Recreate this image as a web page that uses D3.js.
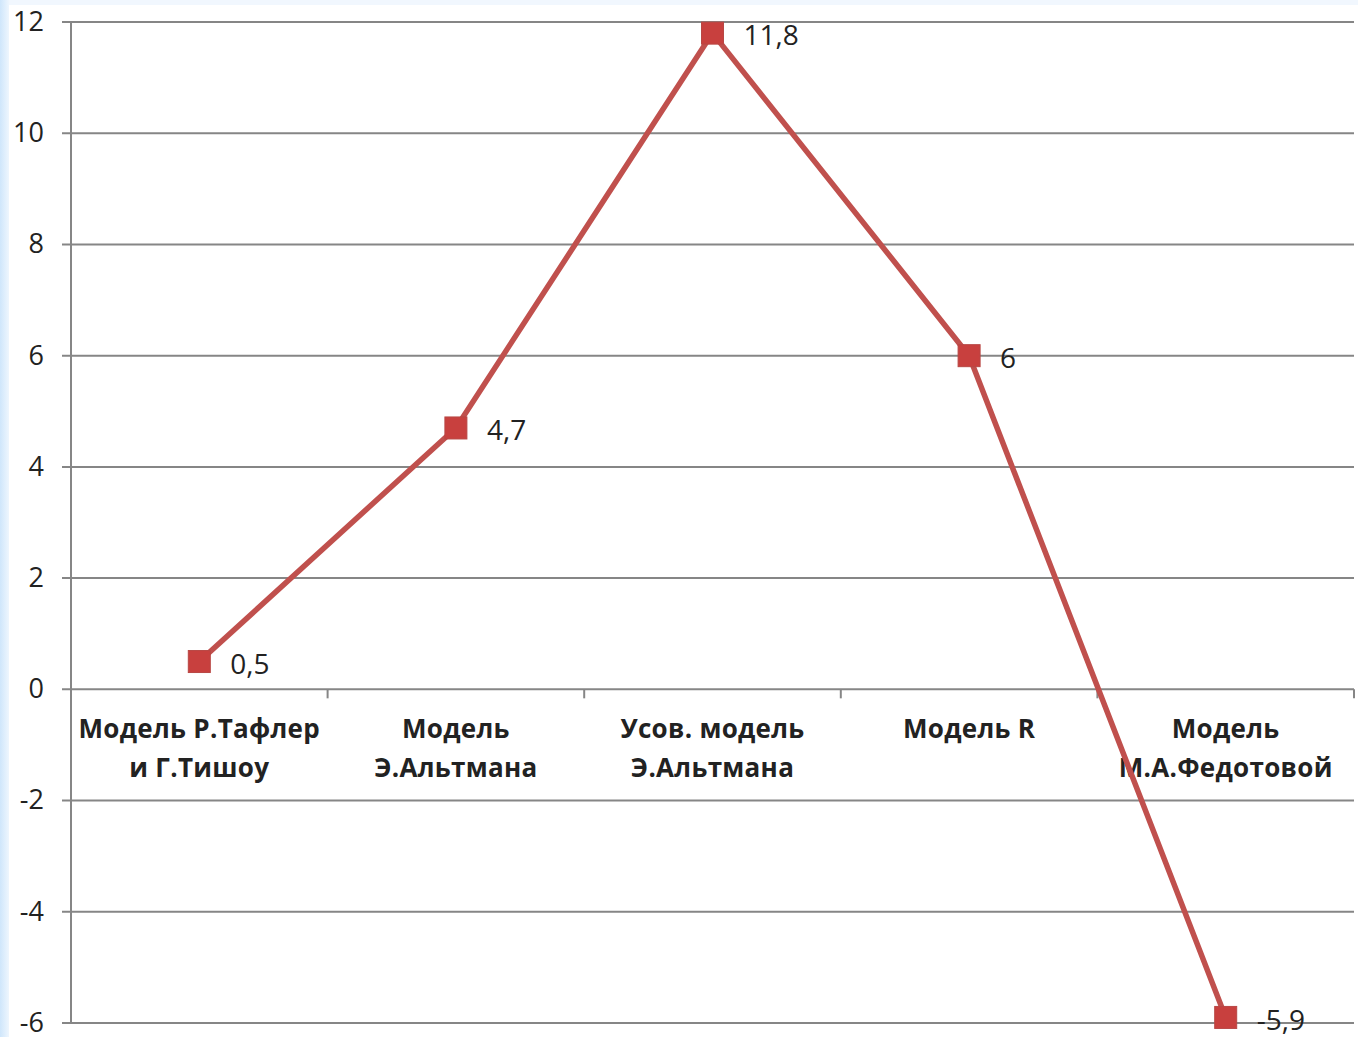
<!DOCTYPE html>
<html>
<head>
<meta charset="utf-8">
<style>
body { margin: 0; background: #fff; }
#chart { display: block; }
.grid line { stroke: #868686; stroke-width: 2px; }
.tick-label { font: 27px "Open Sans", sans-serif; fill: #222; }
.cat-label { font: bold 26px "Open Sans", sans-serif; fill: #222; letter-spacing: 0.3px; }
.value-label { font: 28px "Open Sans", sans-serif; fill: #222; }
</style>
</head>
<body>
<svg id="chart" width="1358" height="1037"></svg>
<script src="https://cdn.jsdelivr.net/npm/d3@7"></script>
<script>
// data
var categories = [
  ["Модель Р.Тафлер", "и Г.Тишоу"],
  ["Модель", "Э.Альтмана"],
  ["Усов. модель", "Э.Альтмана"],
  ["Модель R"],
  ["Модель", "М.А.Федотовой"]
];
var values = [0.5, 4.7, 11.8, 6, -5.9];
var valueLabels = ["0,5", "4,7", "11,8", "6", "-5,9"];
var yTicks = [-6, -4, -2, 0, 2, 4, 6, 8, 10, 12];

var svg = d3.select("#chart"),
    width = 1358,
    height = 1037,
    margin = {top: 22, right: 4, bottom: 14, left: 71};

// slide background: pale blue strip on the left and top
var defs = svg.append("defs");
var grad = defs.append("linearGradient").attr("id", "leftfade")
    .attr("x1", "0").attr("x2", "1").attr("y1", "0").attr("y2", "0");
grad.append("stop").attr("offset", "0%").attr("stop-color", "#cfe6fb");
grad.append("stop").attr("offset", "100%").attr("stop-color", "#eef6fe");
svg.append("rect").attr("x", 0).attr("y", 0).attr("width", 9).attr("height", height)
    .attr("fill", "url(#leftfade)");
svg.append("rect").attr("x", 9).attr("y", 0).attr("width", width - 9).attr("height", 5)
    .attr("fill", "#f1f7fe");

var x = d3.scaleBand()
    .domain(d3.range(categories.length))
    .range([margin.left, width - margin.right]);

var y = d3.scaleLinear()
    .domain([-6, 12])
    .range([height - margin.bottom, margin.top]);

//	gridlines
var grid = svg.append("g").attr("class", "grid");
grid.selectAll("line.h")
  .data(yTicks)
  .enter().append("line")
    .attr("class", "h")
    .attr("x1", margin.left - 9)
    .attr("x2", width - margin.right)
    .attr("y1", function(d) { return y(d); })
    .attr("y2", function(d) { return y(d); });

// vertical axis line
grid.append("line")
    .attr("x1", margin.left).attr("x2", margin.left)
    .attr("y1", y(12)).attr("y2", y(-6));

// category ticks on zero line
var bounds = d3.range(categories.length + 1).map(function(i) {
  return i < categories.length ? x(i) : x.range()[1];
});
grid.selectAll("line.ct")
  .data(bounds)
  .enter().append("line")
    .attr("class", "ct")
    .attr("x1", function(d) { return d; })
    .attr("x2", function(d) { return d; })
    .attr("y1", y(0))
    .attr("y2", y(0) + 9);

// y tick labels
svg.append("g").selectAll("text")
  .data(yTicks)
  .enter().append("text")
    .attr("class", "tick-label")
    .attr("x", 44)
    .attr("y", function(d) { return y(d); })
    .attr("dy", "0.33em")
    .attr("text-anchor", "end")
    .text(function(d) { return d; });

// category labels
var cat = svg.append("g").selectAll("text")
  .data(categories)
  .enter().append("text")
    .attr("class", "cat-label")
    .attr("text-anchor", "middle")
    .attr("x", function(d, i) { return x(i) + x.bandwidth() / 2; })
    .attr("y", y(0) + 49);
cat.selectAll("tspan")
  .data(function(d, i) { return d.map(function(t) { return {t: t, i: i}; }); })
  .enter().append("tspan")
    .attr("x", function(d) { return x(d.i) + x.bandwidth() / 2; })
    .attr("dy", function(d, j) { return j === 0 ? 0 : 39; })
    .text(function(d) { return d.t; });

// line
var cx = function(d, i) { return x(i) + x.bandwidth() / 2; };
var line = d3.line()
    .x(function(d, i) { return cx(d, i); })
    .y(function(d) { return y(d); });

svg.append("path")
    .datum(values)
    .attr("fill", "none")
    .attr("stroke", "#c0504d")
    .attr("stroke-width", 5.5)
    .attr("stroke-linejoin", "round")
    .attr("d", line);

// markers
svg.append("g").selectAll("rect")
  .data(values)
  .enter().append("rect")
    .attr("x", function(d, i) { return cx(d, i) - 11; })
    .attr("y", function(d) { return y(d) - 11; })
    .attr("width", 22)
    .attr("height", 22)
    .attr("fill", "#c8403e")
    .attr("stroke", "#b84744")
    .attr("stroke-width", 1);

// value labels
svg.append("g").selectAll("text")
  .data(values)
  .enter().append("text")
    .attr("class", "value-label")
    .attr("x", function(d, i) { return cx(d, i) + 31; })
    .attr("y", function(d) { return y(d) + 3; })
    .attr("dy", "0.33em")
    .text(function(d, i) { return valueLabels[i]; });
</script>
</body>
</html>
